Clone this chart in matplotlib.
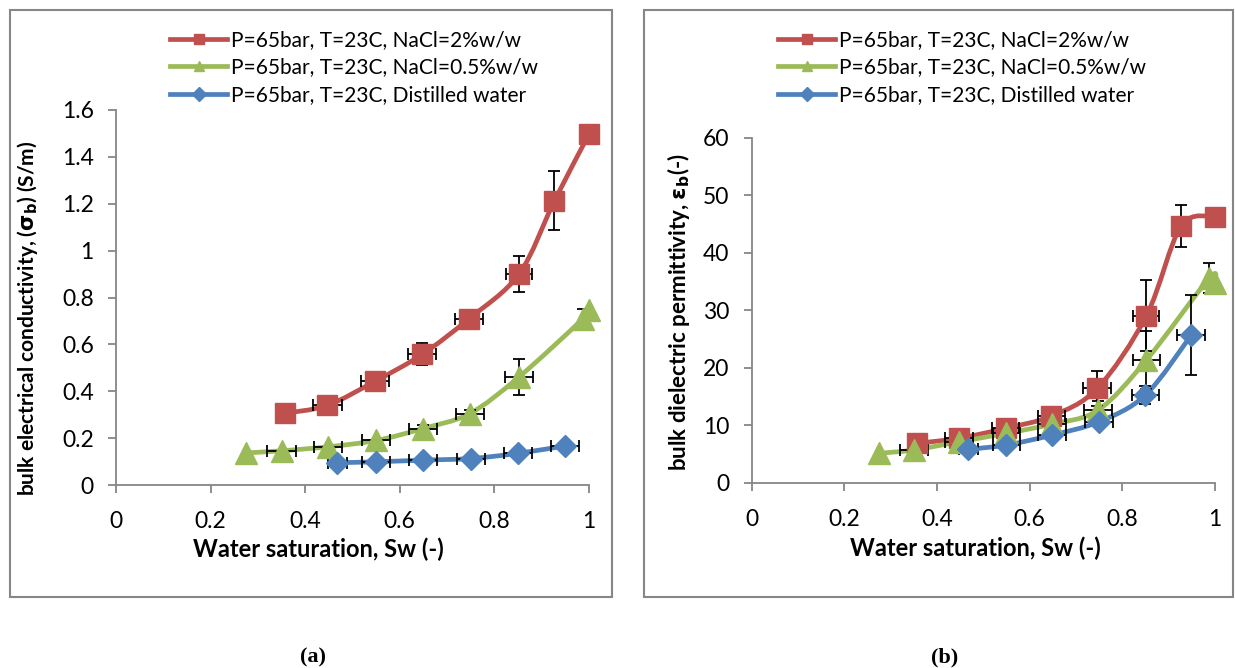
import numpy as np
import matplotlib
matplotlib.use('Agg')
import matplotlib.pyplot as plt
from matplotlib.path import Path
from matplotlib.patches import PathPatch, Rectangle
from matplotlib.lines import Line2D

plt.rcParams['font.family'] = ['Lato', 'DejaVu Sans']
plt.rcParams['mathtext.fontset'] = 'dejavusans'

# ---- data (a) conductivity ----
sw_red = [0.357, 0.447, 0.548, 0.647, 0.746, 0.852, 0.927, 1.0]
sig_red = [0.306, 0.34, 0.443, 0.557, 0.709, 0.90, 1.213, 1.497]
sig_red_yerr = [0, 0.02, 0.02, 0.047, 0.02, 0.075, 0.125, 0]
sw_red_xerr = [0, 0.03, 0.03, 0.03, 0.03, 0.028, 0, 0]

sw_green = [0.275, 0.35, 0.448, 0.55, 0.649, 0.748, 0.852, 0.987, 1.0]
sig_green = [0.137, 0.146, 0.163, 0.19, 0.241, 0.305, 0.461, 0.709, 0.747]
sig_green_yerr = [0, 0, 0, 0, 0.015, 0.015, 0.078, 0.04, 0]
sw_green_xerr = [0, 0.03, 0.03, 0.03, 0.03, 0.03, 0.03, 0, 0]

sw_blue = [0.468, 0.55, 0.649, 0.75, 0.85, 0.949]
sig_blue = [0.095, 0.099, 0.106, 0.113, 0.135, 0.167]
sig_blue_yerr = [0, 0, 0, 0, 0, 0]
sw_blue_xerr = [0.02, 0.03, 0.03, 0.03, 0.03, 0.03]

# ---- data (b) permittivity ----
eps_red = [6.83, 7.7, 9.44, 11.58, 16.4, 29.05, 44.67, 46.29]
eps_red_yerr = [0, 0, 0, 1.0, 3.0, 6.2, 3.6, 0]
eps_green = [5.09, 5.66, 7.1, 8.57, 10.19, 12.63, 21.33, 35.56, 34.8]
eps_green_yerr = [0, 0, 0, 0, 0.8, 1.5, 5.0, 2.6, 0]
eps_blue = [5.78, 6.53, 8.27, 10.59, 15.24, 25.69]
eps_blue_yerr = [0, 0, 0, 0, 1.5, 7.0]

labels = ['P=65bar, T=23C, NaCl=2%w/w',
          'P=65bar, T=23C, NaCl=0.5%w/w',
          'P=65bar, T=23C, Distilled water']
colors = ['#C0504D', '#9BBB59', '#4F81BD']
markers = ['s', '^', 'D']
msizes = [14, 16, 11.5]

GRAY = '#868686'


def smooth_path(x, y):
    # bezier through the points, like excel's smoothed line
    p = np.column_stack([x, y])
    n = len(p)
    verts = [p[0]]
    codes = [Path.MOVETO]
    for i in range(n - 1):
        p0 = p[i - 1] if i > 0 else p[i]
        p3 = p[i + 2] if i + 2 < n else p[i + 1]
        c1 = p[i] + (p[i + 1] - p0) / 6.0
        c2 = p[i + 1] - (p3 - p[i]) / 6.0
        verts += [c1, c2, p[i + 1]]
        codes += [Path.CURVE4] * 3
    return Path(verts, codes)


def draw_series(ax, x, y, xerr, yerr, color, marker, ms):
    x = np.array(x); y = np.array(y)
    xerr = np.array(xerr); yerr = np.array(yerr)
    ax.add_patch(PathPatch(smooth_path(x, y), fill=False, edgecolor=color,
                           lw=3.4, capstyle='round', zorder=2, clip_on=False))
    for err, kw in [(yerr, 'yerr'), (xerr, 'xerr')]:
        m = err > 0
        if m.any():
            eb = ax.errorbar(x[m], y[m], **{kw: err[m]}, fmt='none', ecolor='black',
                             elinewidth=1.3, capsize=4.5, capthick=1.3, zorder=2.5)
            for art in eb.get_children():
                art.set_clip_on(False)
    ax.plot(x, y, ls='none', marker=marker, ms=ms, color=color,
            mec=color, zorder=3, clip_on=False)


def style_axes(ax, ylim, yticks, yticklabels):
    ax.set_xlim(0, 1)
    ax.set_ylim(*ylim)
    ax.set_xticks([0, 0.2, 0.4, 0.6, 0.8, 1])
    ax.set_xticklabels(['0', '0.2', '0.4', '0.6', '0.8', '1'])
    ax.set_yticks(yticks)
    ax.set_yticklabels(yticklabels)
    for s in ['top', 'right']:
        ax.spines[s].set_visible(False)
    for s in ['left', 'bottom']:
        ax.spines[s].set_color(GRAY)
        ax.spines[s].set_linewidth(1.3)
    ax.tick_params(direction='out', length=6, width=1.3, color=GRAY,
                   labelsize=16.5)
    ax.tick_params(axis='x', pad=13)
    ax.tick_params(axis='y', pad=10)
    ax.patch.set_alpha(0)


fig = plt.figure(figsize=(12.35, 6.68), dpi=100)

# panel frames
fig.patches.append(Rectangle((10 / 1235, 71 / 668), 602 / 1235, 587 / 668,
                             transform=fig.transFigure, fill=False,
                             edgecolor=GRAY, lw=1.5))
fig.patches.append(Rectangle((644 / 1235, 71 / 668), 589 / 1235, 587 / 668,
                             transform=fig.transFigure, fill=False,
                             edgecolor=GRAY, lw=1.5))

ax1 = fig.add_axes([116 / 1235, 183 / 668, 473 / 1235, 375 / 668])
ax2 = fig.add_axes([751.6 / 1235, 185.5 / 668, 463.4 / 1235, 344.5 / 668])

# (a)
draw_series(ax1, sw_red, sig_red, sw_red_xerr, sig_red_yerr, colors[0], markers[0], msizes[0])
draw_series(ax1, sw_green, sig_green, sw_green_xerr, sig_green_yerr, colors[1], markers[1], msizes[1])
draw_series(ax1, sw_blue, sig_blue, sw_blue_xerr, sig_blue_yerr, colors[2], markers[2], msizes[2])
style_axes(ax1, (0, 1.6), [0, 0.2, 0.4, 0.6, 0.8, 1, 1.2, 1.4, 1.6],
           ['0', '0.2', '0.4', '0.6', '0.8', '1', '1.2', '1.4', '1.6'])
ax1.set_xlabel('Water saturation, Sw (-)', fontsize=17, fontweight='bold')
ax1.set_ylabel(r'bulk electrical conductivity, ($\mathbf{\sigma_b}$) (S/m)',
               fontsize=15, fontweight='bold')
ax1.xaxis.set_label_coords(0.427, -0.139)
ax1.yaxis.set_label_coords(-0.161, 0.445)

# (b)
draw_series(ax2, sw_red, eps_red, sw_red_xerr, eps_red_yerr, colors[0], markers[0], msizes[0])
draw_series(ax2, sw_green, eps_green, sw_green_xerr, eps_green_yerr, colors[1], markers[1], msizes[1])
draw_series(ax2, sw_blue, eps_blue, sw_blue_xerr, eps_blue_yerr, colors[2], markers[2], msizes[2])
style_axes(ax2, (0, 60), [0, 10, 20, 30, 40, 50, 60],
           ['0', '10', '20', '30', '40', '50', '60'])
ax2.set_xlabel('Water saturation, Sw (-)', fontsize=17, fontweight='bold')
ax2.set_ylabel(r'bulk dielectric permittivity, $\mathbf{\varepsilon_b}$(-)',
               fontsize=16, fontweight='bold')
ax2.xaxis.set_label_coords(0.482, -0.158)
ax2.yaxis.set_label_coords(-0.129, 0.495)

# legends
handles = [Line2D([], [], color=c, lw=3.4, marker=m, ms=7, mec=c)
           for c, m in zip(colors, markers)]
for xa in [170 / 1235, 778 / 1235]:
    fig.legend(handles, labels, loc='upper left', bbox_to_anchor=(xa, 1 - 30 / 668),
               frameon=False, fontsize=15, handlelength=2.75, handletextpad=0.2,
               labelspacing=0.36, borderpad=0, borderaxespad=0)

fig.text(313 / 1235, 1 - 657 / 668, '(a)', ha='center', va='center', fontsize=16,
         fontweight='bold', family='Liberation Serif')
fig.text(945 / 1235, 1 - 657 / 668, '(b)', ha='center', va='center', fontsize=16,
         fontweight='bold', family='Liberation Serif')

fig.savefig('out.png', dpi=100)
